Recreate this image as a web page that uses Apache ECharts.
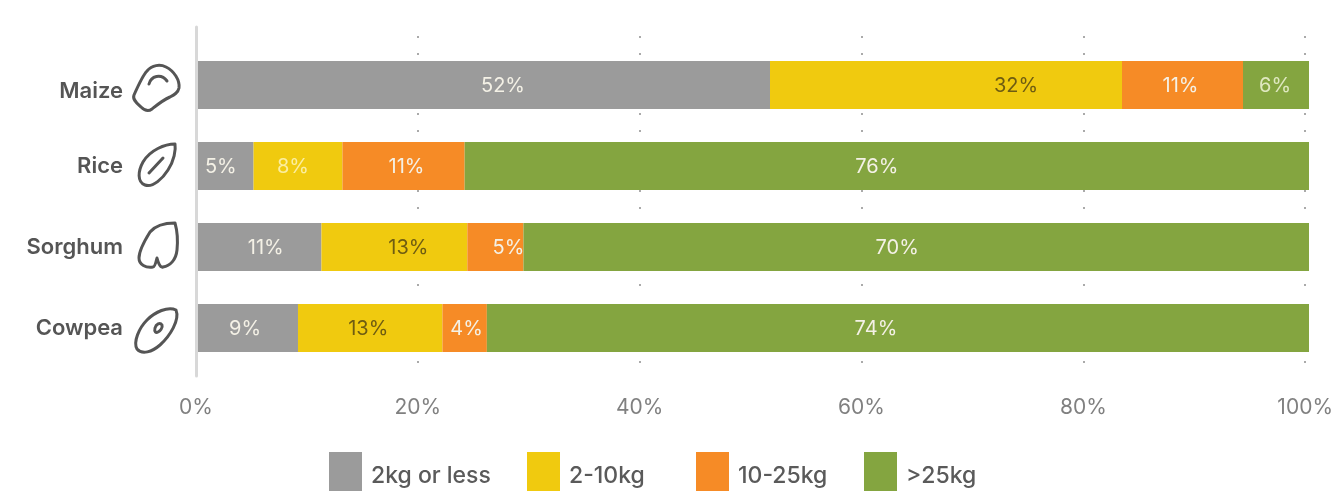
<!DOCTYPE html>
<html>
<head>
<meta charset="utf-8">
<style>
html,body{margin:0;padding:0;background:#fff;overflow:hidden}
#chart{width:1336px;height:491px}
</style>
<script src="https://cdn.jsdelivr.net/npm/echarts@6/dist/echarts.min.js"></script>
</head>
<body>
<div id="chart"></div>
<script>
// Crops, top to bottom
const crops = ['Maize', 'Rice', 'Sorghum', 'Cowpea'];
// Share of households per storage size, in percent
const sizeBands = ['2kg or less', '2-10kg', '10-25kg', '>25kg'];
const upTo2kg = [52, 5, 11, 9];
const from2to10kg = [32, 8, 13, 13];
const from10to25kg = [11, 11, 5, 4];
const over25kg = [6, 76, 70, 74];
const xTicks = [0, 20, 40, 60, 80, 100];

const bandValues = [upTo2kg, from2to10kg, from10to25kg, over25kg];
const bandColors = ['#9b9b9b', '#f0ca0f', '#f68b26', '#84a540'];
const labelLight = '#f4f1e6';
const labelDark = '#6e5c12';
const font = 'Inter';

// Label text colour per band and crop; yellow segments mostly carry dark text
const labelColors = [
  [labelLight, labelLight, labelLight, labelLight],
  [labelDark, '#fbeea0', labelDark, labelDark],
  [labelLight, labelLight, labelLight, labelLight],
  ['#dfe8c0', labelLight, labelLight, labelLight]
];
// Sideways shift of the value labels, in pixels
const labelShift = [
  [19, -5, 6, -3],
  [70, -5, 14, -2],
  [-2, 3, 13, 2],
  [-1, -10, -19, -22]
];

// Rounded totals can differ from 100, so each bar is scaled to fill the axis
const totals = crops.map((_, c) => bandValues.reduce((sum, band) => sum + band[c], 0));

const series = sizeBands.map((name, b) => ({
  name,
  type: 'bar',
  stack: 'share',
  xAxisIndex: 0,
  yAxisIndex: 0,
  barWidth: 48,
  itemStyle: { color: bandColors[b] },
  data: crops.map((_, c) => ({
    value: bandValues[b][c] / totals[c] * 100,
    label: {
      show: true,
      position: 'inside',
      offset: [labelShift[b][c], 1],
      formatter: bandValues[b][c] + '%',
      color: labelColors[b][c],
      fontFamily: font,
      fontSize: 20
    }
  }))
}));

const legendLefts = [329, 527, 696, 864];
const legends = sizeBands.map((name, i) => ({
  data: [name],
  left: legendLefts[i],
  top: 452,
  padding: 0,
  itemWidth: 33,
  itemHeight: 48,
  icon: 'rect',
  selectedMode: false,
  textStyle: {
    color: '#5a5a5a',
    fontFamily: font,
    fontSize: 23,
    fontWeight: 500,
    padding: [0, 0, 0, 4]
  }
}));

// Hand-drawn crop outlines beside the row names
const iconPaths = {
  maizeIcon: 'M134,95 C138,86 143,75 147,71 C152,65 160,64 166,67 C174,71 180,80 179,88 C178,93 174,95 170,97 C163,100 157,105 152,109 C148,112 144,110 141,107 C138,104 132,100 134,95 Z M149,84 C151,76 161,73 167,81',
  riceIcon: 'M175,144 C165,144 150,150 143,162 C138,171 137,182 145,185 C153,188 163,178 168,170 C174,161 176,150 175,144 Z M149,173 L163,158',
  sorghumIcon: 'M175,223 C165,223 155,226 150,232 C145,240 139,250 139,258 C139,265 146,268 153,267 C155,267 156,262 157,258 C158,262 160,268 163,267 C170,266 176,260 177,250 C178,240 177,230 175,223 Z',
  cowpeaIcon: 'M176,310 C168,306 155,312 147,320 C139,328 133,342 137,349 C142,355 152,352 160,345 C170,336 180,320 176,310 Z M162,325 C160,322 156,324 155,328 C154,332 156,333 158,332 C160,331 163,328 162,325 Z'
};
Object.keys(iconPaths).forEach(name => {
  echarts.graphic.registerShape(name, echarts.graphic.extendPath(iconPaths[name]));
});

const chart = echarts.init(document.getElementById('chart'), null, { renderer: 'canvas' });
chart.setOption({
  animation: false,
  backgroundColor: '#ffffff',
  grid: [
    { left: 198, width: 1111, top: 44.5, height: 324 },
    { left: 196, width: 1112.5, top: 27, height: 349 }
  ],
  xAxis: [
    { gridIndex: 0, type: 'value', min: 0, max: 100, show: false },
    {
      gridIndex: 1,
      type: 'value',
      min: xTicks[0],
      max: xTicks[xTicks.length - 1],
      interval: xTicks[1] - xTicks[0],
      axisLine: { show: false },
      axisTick: { show: false },
      axisLabel: {
        margin: 21,
        color: '#808080',
        fontFamily: font,
        fontSize: 21,
        formatter: '{value}%'
      },
      splitLine: {
        show: true,
        showMinLine: false,
        lineStyle: { color: '#aaaaaa', width: 2, type: [2, 15, 2, 58], dashOffset: 68 }
      }
    }
  ],
  yAxis: [
    {
      gridIndex: 0,
      type: 'category',
      inverse: true,
      data: crops,
      axisLine: { show: false },
      axisTick: { show: false },
      axisLabel: {
        margin: 75,
        color: '#555555',
        fontFamily: font,
        fontSize: 22,
        fontWeight: 600,
        // The first row name sits a little lower than its bar's centre
        formatter: name => name === crops[0] ? '{low|' + name + '}' : name,
        rich: {
          low: { color: '#555555', fontFamily: font, fontSize: 22, fontWeight: 600, padding: [12, 0, 0, 0] }
        }
      }
    },
    {
      gridIndex: 1,
      type: 'value',
      min: 0,
      max: 1,
      axisLabel: { show: false },
      axisTick: { show: false },
      splitLine: { show: false },
      axisLine: { show: true, lineStyle: { color: '#d8d8d8', width: 3 } }
    }
  ],
  legend: legends,
  series,
  graphic: Object.keys(iconPaths).map(type => ({
    type,
    style: { fill: null, stroke: '#555555', lineWidth: 3, lineJoin: 'round', lineCap: 'round' }
  }))
});
</script>
</body>
</html>
